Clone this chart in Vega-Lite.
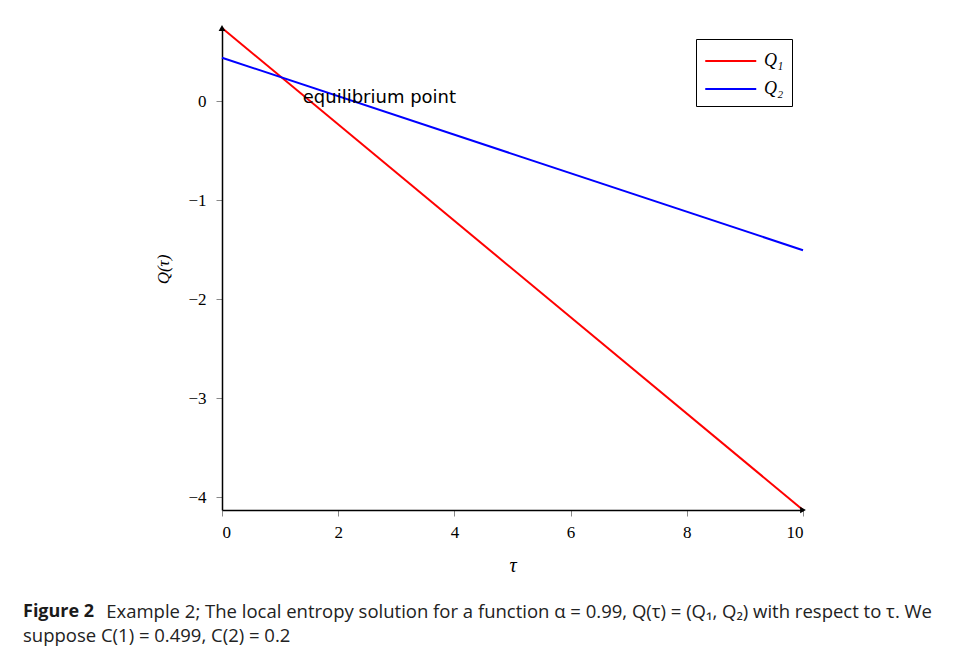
{
  "$schema": "https://vega.github.io/schema/vega-lite/v6.json",
  "width": 581,
  "height": 482,
  "autosize": {"type": "none"},
  "padding": {"left": 222, "top": 28, "right": 151, "bottom": 153},
  "background": "white",
  "title": {
    "text": "Figure 2",
    "subtitle": ["\u200b\u2003\u2003\u2003\u2003\u2002Example 2; The local entropy solution for a function α = 0.99, Q(τ) = (Q₁, Q₂) with respect to τ. We", "suppose C(1) = 0.499, C(2) = 0.2"],
    "orient": "bottom",
    "anchor": "start",
    "frame": "group",
    "dx": -199,
    "offset": 28,
    "font": "Open Sans",
    "fontSize": 18,
    "fontWeight": "bold",
    "color": "#1a1a1a",
    "subtitleFont": "Open Sans",
    "subtitleFontSize": 18.5,
    "subtitleColor": "#222",
    "subtitlePadding": -18.5,
    "subtitleLineHeight": 24
  },
  "layer": [
    {
      "data": {"values": [
        {"tau": 0, "q": 0.74, "series": "Q₁"},
        {"tau": 10, "q": -4.13, "series": "Q₁"},
        {"tau": 0, "q": 0.44, "series": "Q₂"},
        {"tau": 10, "q": -1.505, "series": "Q₂"}
      ]},
      "mark": {"type": "line", "strokeWidth": 2, "clip": false},
      "encoding": {
        "x": {"field": "tau", "type": "quantitative", "scale": {"domain": [0, 10], "nice": false},
          "axis": {"values": [0, 2, 4, 6, 8, 10], "format": "d", "title": "τ", "grid": false, "titleFontStyle": "italic", "titleFontWeight": "normal", "titleFontSize": 20, "titleFont": "Liberation Serif", "titlePadding": 15}},
        "y": {"field": "q", "type": "quantitative", "scale": {"domain": [-4.13, 0.74], "nice": false, "zero": false},
          "axis": {"values": [-4, -3, -2, -1, 0], "format": "d", "title": "Q(τ)", "grid": false, "titleFontStyle": "italic", "titleFontWeight": "normal", "titleFontSize": 17, "titleFont": "Liberation Serif", "titlePadding": 15}},
        "color": {"field": "series", "type": "nominal",
          "scale": {"domain": ["Q₁", "Q₂"], "range": ["#ff0000", "#0000ff"]},
          "legend": {"title": null, "orient": "top-right", "offset": 11, "strokeColor": "black", "fillColor": "white", "padding": 8,
            "symbolType": "M-1,0H3", "symbolSize": 650, "symbolStrokeWidth": 2, "labelFont": "Liberation Serif", "labelFontStyle": "italic", "labelFontSize": 18, "labelColor": "black", "rowPadding": 5, "labelOffset": 32, "labelLimit": 200}}
      }
    },
    {
      "data": {"values": [
        {"tau": 0, "q": 0.74, "dir": "up"},
        {"tau": 10, "q": -4.13, "dir": "right"}
      ]},
      "mark": {"type": "point", "filled": true, "color": "black", "size": 45, "opacity": 1, "clip": false},
      "encoding": {
        "x": {"field": "tau", "type": "quantitative"},
        "y": {"field": "q", "type": "quantitative"},
        "shape": {"field": "dir", "type": "nominal", "scale": {"domain": ["up", "right"], "range": ["triangle-up", "triangle-right"]}, "legend": null}
      }
    },
    {
      "data": {"values": [{"tau": 1.39, "q": 0.03, "label": "equilibrium point"}]},
      "mark": {"type": "text", "align": "left", "baseline": "middle", "font": "DejaVu Sans", "fontSize": 18, "color": "black"},
      "encoding": {
        "x": {"field": "tau", "type": "quantitative"},
        "y": {"field": "q", "type": "quantitative"},
        "text": {"field": "label"}
      }
    }
  ],
  "config": {
    "view": {"stroke": null},
    "axis": {
      "domainColor": "black",
      "domainWidth": 1.5,
      "tickColor": "#888",
      "tickSize": 6,
      "labelFont": "Liberation Serif",
      "labelFontSize": 17,
      "labelColor": "black",
      "titleColor": "black"
    },
    "axisX": {"labelPadding": 8},
    "axisY": {"labelPadding": 10}
  }
}
